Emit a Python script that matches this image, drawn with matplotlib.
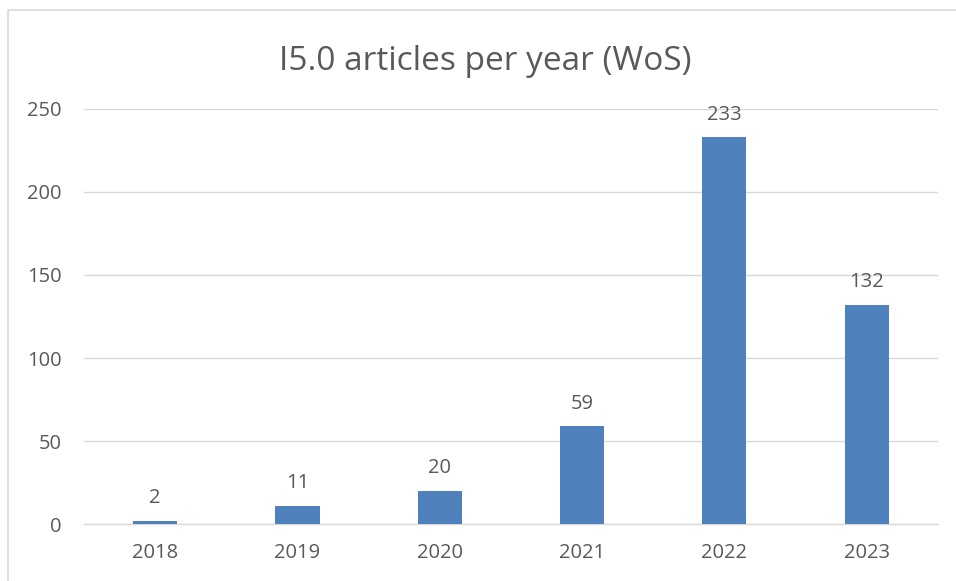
import matplotlib.pyplot as plt
from matplotlib.patches import Rectangle

# Dados
anos = ["2018", "2019", "2020", "2021", "2022", "2023"]
artigos = [2, 11, 20, 59, 233, 132]
y_ticks = [0, 50, 100, 150, 200, 250]

cinza_texto = "#595959"
cinza_linha = "#D9D9D9"
azul = "#4F81BD"

plt.rcParams['font.family'] = ['Open Sans', 'DejaVu Sans']

fig = plt.figure(figsize=(9.56, 5.81), dpi=100)
ax = fig.add_axes([0.0879, 0.0981, 0.8931, 0.7143])

x = range(len(anos))
barras = ax.bar(x, artigos, width=0.31, color=azul, zorder=3)

# Rótulos de dados
for xi, v in zip(x, artigos):
    ax.annotate(str(v), (xi, v), xytext=(0, 9), textcoords="offset points",
                ha="center", va="bottom", fontsize=14.5, color=cinza_texto)

ax.set_xlim(-0.5, len(anos) - 0.5)
ax.set_ylim(0, 250)
ax.set_yticks(y_ticks)
ax.set_xticks(list(x))
ax.set_xticklabels(anos)
ax.tick_params(axis="both", length=0, labelsize=14.5, labelcolor=cinza_texto)
ax.tick_params(axis="y", pad=16)
ax.tick_params(axis="x", pad=14)

ax.grid(axis="y", color=cinza_linha, linewidth=1, zorder=0)
for lado in ["top", "right", "left"]:
    ax.spines[lado].set_visible(False)
ax.spines["bottom"].set_color(cinza_linha)
ax.spines["bottom"].set_linewidth(1)

fig.text(0.508, 0.894, "I5.0 articles per year (WoS)", ha="center", va="center",
         fontsize=24, color=cinza_texto)

# Borda da área do gráfico (cortada à direita e embaixo)
fig.patches.append(Rectangle((8 / 956, -0.05), 1.1, 1.05 - 10 / 581,
                             transform=fig.transFigure, fill=False,
                             edgecolor=cinza_linha, linewidth=1.2))

plt.savefig("out.png", dpi=100)
